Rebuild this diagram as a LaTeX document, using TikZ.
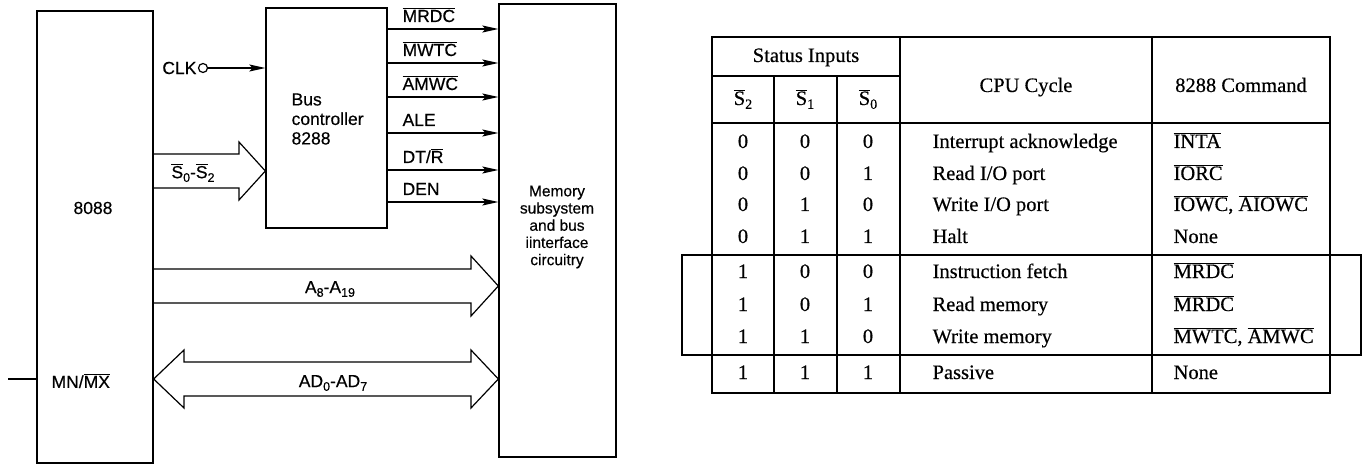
\documentclass[tikz,border=0pt]{standalone}
\usepackage{fontspec}
\setmainfont[FakeBold=0.4]{Liberation Serif}
\setsansfont[FakeBold=0.4]{Liberation Sans}
\usetikzlibrary{arrows.meta}

% overlined (active-low) signal name and lowered index
\newcommand\ovl[1]{$\overline{\hbox{#1}}$}
\newcommand\lowsub[1]{\raisebox{-0.4ex}{\fontsize{12.5}{12.5}\selectfont #1}}
\newcommand\tsub[1]{\raisebox{-0.4ex}{\fontsize{14}{14}\selectfont #1}}

\begin{document}
\begin{tikzpicture}[x=1pt,y=-1pt,line width=1.2pt,
  blk/.style={draw,line width=1.3pt,inner sep=0pt},
  lbl/.style={font=\sffamily\fontsize{17.5}{19.5}\selectfont,inner sep=0pt},
  sig/.style={-{Stealth[length=16pt,width=7pt,inset=3pt]},line width=1.2pt},
  fat/.style={draw,line width=1.2pt,line join=miter},
  cell/.style={font=\fontsize{20.5}{20.5}\selectfont,inner sep=0pt,text height=14pt,text depth=4pt},
  rule/.style={line width=1.4pt}]
\useasboundingbox (0,0) rectangle (1365,465);

% ---------- block diagram ----------
\node[blk,minimum width=116pt,minimum height=452pt] (cpu) at (95,237) {};
\node[lbl] (cpulbl) at (93,208) {8088};
\node[lbl,anchor=west] (mnmx) at (51,381) {MN/\ovl{MX}};
\coordinate (mnin) at (8,379);
\draw (mnin) -- (mnin -| cpu.west);

\node[blk,minimum width=121pt,minimum height=220pt] (bus) at (326.5,118) {};
\node[lbl,anchor=west,align=left] (buslbl) at (291,119) {Bus\\controller\\8288};

\node[blk,minimum width=117pt,minimum height=453pt] (mem) at (557.5,230.5) {};
\node[font=\sffamily\fontsize{15.5}{17.2}\selectfont,align=center,inner sep=0pt] (memlbl) at (557,227)
  {Memory\\subsystem\\and bus\\iinterface\\circuitry};

% clock input
\node[lbl,anchor=east] (clk) at (197,68) {CLK};
\node[circle,draw,line width=1.2pt,minimum size=9pt,inner sep=0pt] (clkpin) at (203,68) {};
\draw[sig] (clkpin) -- (clkpin -| bus.west);

% command / control outputs of the 8288
\foreach \y/\t [count=\i] in {29/{\ovl{MRDC}},63/{\ovl{MWTC}},97/{\ovl{AMWC}},
                             133/{ALE},170/{DT/\ovl{R}},202/{DEN}}{
  \draw[sig] (bus.east |- 0,\y) -- (mem.west |- 0,\y);
  \node[lbl,anchor=base west] (out\i) at (402,\y-7) {\t};
}

% status bus S0-S2
\draw[fat] (cpu.east |- 0,154) -- (239,154) -- (239,142) -- (bus.west |- 0,171)
  -- (239,200) -- (239,188) -- (cpu.east |- 0,188);
\node[lbl] (stlbl) at (193,173) {\ovl{S}\lowsub{0}-\ovl{S}\lowsub{2}};

% address bus A8-A19
\draw[fat] (cpu.east |- 0,269) -- (471,269) -- (471,256) -- (mem.west |- 0,286)
  -- (471,316) -- (471,303) -- (cpu.east |- 0,303);
\node[lbl] (albl) at (330,289) {A\lowsub{8}-A\lowsub{19}};

% multiplexed address/data bus AD0-AD7
\draw[fat] (cpu.east |- 0,379) -- (184,350) -- (184,362) -- (471,362) -- (471,350)
  -- (mem.west |- 0,379) -- (471,408) -- (471,396) -- (184,396) -- (184,408) -- cycle;
\node[lbl] (adlbl) at (333,383) {AD\lowsub{0}-AD\lowsub{7}};

% ---------- status decoding table ----------
\draw[rule] (712,37) rectangle (1330,393);
\draw[rule] (712,76) -- (900,76);
\draw[rule] (774,76) -- (774,393);
\draw[rule] (837,76) -- (837,393);
\draw[rule] (900,37) -- (900,393);
\draw[rule] (1152,37) -- (1152,393);
\draw[rule] (712,123) -- (1330,123);
\draw[rule] (682,255) rectangle (1361,355);

\node[cell] (hstat) at (806,57) {Status Inputs};
\node[cell] (hs2) at (743,100) {\ovl{S}\tsub{2}};
\node[cell] (hs1) at (805,100) {\ovl{S}\tsub{1}};
\node[cell] (hs0) at (868,100) {\ovl{S}\tsub{0}};
\node[cell] (hcyc) at (1026,87) {CPU Cycle};
\node[cell] (hcmd) at (1241,87) {8288 Command};

\foreach \y/\a/\b/\c/\cyc/\cmd [count=\i] in {
  143/0/0/0/{Interrupt acknowledge}/{\ovl{INTA}},
  175/0/0/1/{Read I/O port}/{\ovl{IORC}},
  206/0/1/0/{Write I/O port}/{\ovl{IOWC}, \ovl{AIOWC}},
  238/0/1/1/{Halt}/{None},
  273/1/0/0/{Instruction fetch}/{\ovl{MRDC}},
  306/1/0/1/{Read memory}/{\ovl{MRDC}},
  338/1/1/0/{Write memory}/{\ovl{MWTC}, \ovl{AMWC}},
  374/1/1/1/{Passive}/{None}}{
  \node[cell] (r\i a) at (743,\y) {\a};
  \node[cell] (r\i b) at (805,\y) {\b};
  \node[cell] (r\i c) at (868,\y) {\c};
  \node[cell,anchor=west] (r\i d) at (932,\y) {\cyc};
  \node[cell,anchor=west] (r\i e) at (1173,\y) {\cmd};
}
\end{tikzpicture}
\end{document}
